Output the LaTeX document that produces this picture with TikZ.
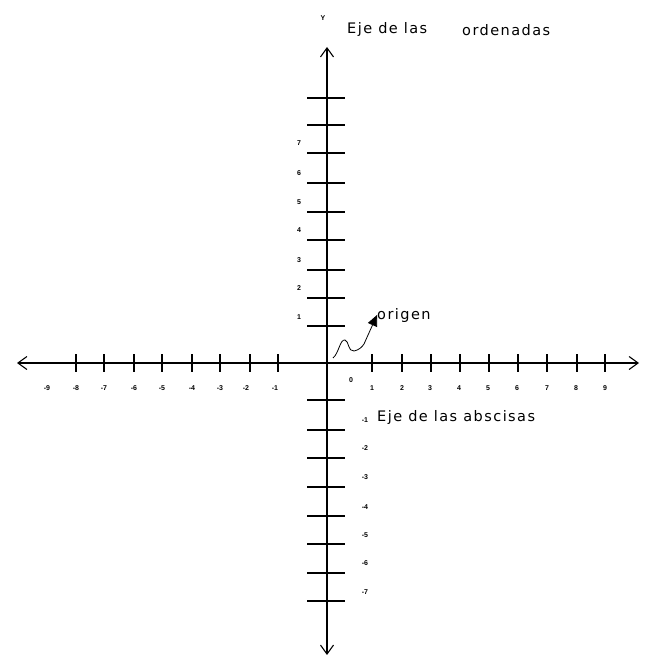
\documentclass[tikz,border=0pt]{standalone}
\usepackage{fontspec}
\setmainfont{Liberation Sans}
\newfontfamily\lblfont[LetterSpace=10]{DejaVu Sans}
\usetikzlibrary{arrows.meta}
\begin{document}
\begin{tikzpicture}[x=1pt,y=-1pt,
  axis/.style={line width=1.4pt, -{Straight Barb[length=9pt,width=13pt,line width=1.1pt]}},
  tickmark/.style={line width=1.4pt},
  lab/.style={font=\fontsize{7}{7}\selectfont\bfseries, inner sep=0pt},
  big/.style={font=\fontsize{14.5}{15}\lblfont, inner sep=0pt, anchor=west}]
\useasboundingbox (0,0) rectangle (651,655);
\coordinate (O) at (327,363);
\coordinate (L) at (17,363);
\coordinate (R) at (639,363);
\coordinate (T) at (327,47);
\coordinate (B) at (327,655);
\draw[axis] (O) -- (L);
\draw[axis] (O) -- (R);
\draw[axis] (O) -- (T);
\draw[axis] (O) -- (B);
% x ticks
\foreach \x in {76,104,134,162,192,220,250,278,372,402,431,460,489,518,547,577,605}
  \draw[tickmark] (\x,354) -- (\x,372);
% y ticks
\foreach \y in {98,125,153,183,212,240,270,298,326,400,430,458,487,516,544,573,601}
  \draw[tickmark] (307,\y) -- (345,\y);
% x labels
\foreach \x/\t in {47/-9,76/-8,104/-7,134/-6,162/-5,192/-4,220/-3,246/-2,275/-1,372/1,402/2,430/3,459/4,488/5,517/6,547/7,576/8,605/9}
  \node[lab] (xl\t) at (\x,388) {\t};
\node[lab] (zero) at (351,380) {0};
% y labels
\foreach \y/\t in {317/1,288/2,260/3,230/4,202/5,173/6,143/7}
  \node[lab] (yl\t) at (299,\y) {\t};
\foreach \y/\t in {420/-1,448/-2,477/-3,507/-4,535/-5,563/-6,592/-7}
  \node[lab] (yl\t) at (365,\y) {\t};
\node[lab] (Y) at (323,18) {Y};
\node[big] (ord1) at (347,30) {Eje de las};
\node[big] (ord2) at (462,30) {ordenadas};
\node[big] (absc) at (377,417) {Eje de las abscisas};
\node[big] (orig) at (377,315) {origen};
\coordinate (s) at (333,358);
\draw[line width=0.8pt, -{Triangle[length=11pt,width=10pt]}]
  (s) .. controls (339,353) and (340,339) .. (345,340)
      .. controls (349,341) and (348,352) .. (354,351)
      .. controls (359,350) and (362,347) .. (364,344)
      -- (orig.west);
\end{tikzpicture}
\end{document}
